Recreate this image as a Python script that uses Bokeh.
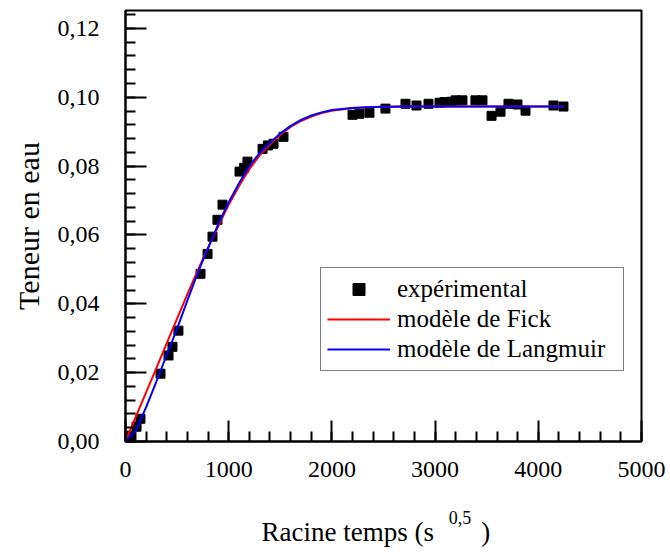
import numpy as np
from bokeh.plotting import figure
from bokeh.models import FixedTicker, Legend, LegendItem, Range1d, Title
from bokeh.embed import file_html
from bokeh.resources import INLINE

# ---- data ----
exp_x = [20, 58, 107, 145, 339, 417, 455, 513, 727, 795, 843, 891, 940,
         1105, 1150, 1182, 1328, 1380, 1434, 1531,
         2200, 2267, 2364, 2519, 2713, 2820, 2936, 3043, 3090, 3160, 3198,
         3265, 3391, 3459, 3547, 3634, 3711, 3798, 3876, 4147, 4244]
exp_y = [0.0008, 0.0017, 0.0043, 0.0066, 0.0197, 0.0250, 0.0275, 0.0322,
         0.0487, 0.0545, 0.0595, 0.0644, 0.0688,
         0.0784, 0.0795, 0.0813, 0.0850, 0.0860, 0.0865, 0.0885,
         0.0949, 0.0952, 0.0955, 0.0967, 0.0981, 0.0976, 0.0981, 0.0984,
         0.0986, 0.0987, 0.0991, 0.0991, 0.0991, 0.0991, 0.0946, 0.0958,
         0.0981, 0.0979, 0.0961, 0.0976, 0.0973]

model_x = [0, 100, 200, 300, 400, 500, 600, 700, 800, 900, 1000, 1100, 1200,
           1300, 1400, 1500, 1600, 1700, 1800, 1900, 2000, 2200, 2400, 2700,
           3000, 3500, 4000, 4250]
fick_y = [0.0, 0.0072, 0.0143, 0.0214, 0.0286, 0.0357, 0.0428, 0.0497,
          0.0563, 0.0626, 0.0688, 0.0742, 0.0791, 0.0831, 0.0863, 0.0891,
          0.0914, 0.0931, 0.0944, 0.0954, 0.0961, 0.0969, 0.0972, 0.0973,
          0.0973, 0.0973, 0.0973, 0.0973]
langmuir_y = [0.0, 0.0032, 0.0100, 0.0175, 0.0252, 0.0328, 0.0410, 0.0490,
              0.0562, 0.0632, 0.0695, 0.0750, 0.0800, 0.0838, 0.0868, 0.0895,
              0.0917, 0.0934, 0.0947, 0.0956, 0.0963, 0.0969, 0.0972, 0.0973,
              0.0973, 0.0973, 0.0973, 0.0973]

x_ticks = [0, 1000, 2000, 3000, 4000, 5000]
y_ticks = [0, 0.02, 0.04, 0.06, 0.08, 0.1, 0.12]
y_tick_labels = ["0,00", "0,02", "0,04", "0,06", "0,08", "0,10", "0,12"]

legend_labels = ["expérimental", "modèle de Fick", "modèle de Langmuir"]
x_title_main = "Racine temps (s" + "\u00a0" * 7 + ")"
x_title_sup = "0,5"
y_title = "Teneur en eau"

FONT = "Liberation Serif"

p = figure(width=668, height=552, output_backend="svg", toolbar_location=None,
           x_range=Range1d(0, 5000), y_range=Range1d(0, 0.1252),
           min_border_left=125, min_border_right=27, min_border_top=10,
           min_border_bottom=111)
p.background_fill_color = "white"
p.border_fill_color = "white"
p.outline_line_color = "black"
p.outline_line_width = 2
p.xgrid.visible = False
p.ygrid.visible = False

sq = p.scatter(exp_x, exp_y, marker="square", size=9, color="black")
rf = p.line(model_x, fick_y, line_color="#ff0000", line_width=2)
rl = p.line(model_x, langmuir_y, line_color="#0000ff", line_width=2)

for ax in (p.xaxis[0], p.yaxis[0]):
    ax.axis_line_color = "black"
    ax.axis_line_width = 2
    ax.major_tick_line_color = "black"
    ax.minor_tick_line_color = "black"
    ax.major_tick_line_width = 2
    ax.minor_tick_line_width = 2
    ax.major_tick_in = 21
    ax.major_tick_out = 0
    ax.minor_tick_in = 10
    ax.minor_tick_out = 0
    ax.major_label_text_font = FONT
    ax.major_label_text_font_size = "24px"
    ax.major_label_text_color = "black"

p.xaxis.ticker = FixedTicker(ticks=x_ticks, minor_ticks=list(np.arange(0, 5001, 200)))
p.yaxis.ticker = FixedTicker(ticks=y_ticks, minor_ticks=[round(v, 3) for v in np.arange(0, 0.1241, 0.004)])
p.yaxis.major_label_overrides = {t: l for t, l in zip(y_ticks, y_tick_labels)}
p.xaxis.major_label_standoff = 20
p.yaxis.major_label_standoff = 26

p.yaxis.axis_label = y_title
p.yaxis.axis_label_text_font = FONT
p.yaxis.axis_label_text_font_size = "30px"
p.yaxis.axis_label_text_font_style = "normal"
p.yaxis.axis_label_text_color = "black"
p.yaxis.axis_label_standoff = 10

# superscript "0,5" as the x axis label (shifted right with no-break spaces)
p.xaxis.axis_label = "\u00a0" * 34 + x_title_sup
p.xaxis.axis_label_text_font = FONT
p.xaxis.axis_label_text_font_size = "18px"
p.xaxis.axis_label_text_font_style = "normal"
p.xaxis.axis_label_text_color = "black"
p.xaxis.axis_label_standoff = 28

# main part of the x title below it
t_main = Title(text=x_title_main, align="left", offset=136, standoff=-31,
               text_font=FONT, text_font_size="27px", text_font_style="normal",
               text_color="black")
p.add_layout(t_main, "below")

legend = Legend(items=[LegendItem(label=legend_labels[0], renderers=[sq]),
                       LegendItem(label=legend_labels[1], renderers=[rf]),
                       LegendItem(label=legend_labels[2], renderers=[rl])],
                location=(195, 70))
legend.border_line_color = "black"
legend.border_line_width = 1
legend.background_fill_color = "white"
legend.background_fill_alpha = 1
legend.label_text_font = FONT
legend.label_text_font_size = "25px"
legend.label_text_color = "black"
legend.glyph_width = 63
legend.glyph_height = 30
legend.label_height = 30
legend.label_width = 220
legend.label_standoff = 7
legend.padding = 6
legend.spacing = 0
legend.margin = 0
p.add_layout(legend)

open("out.html", "w").write(file_html(p, INLINE))
